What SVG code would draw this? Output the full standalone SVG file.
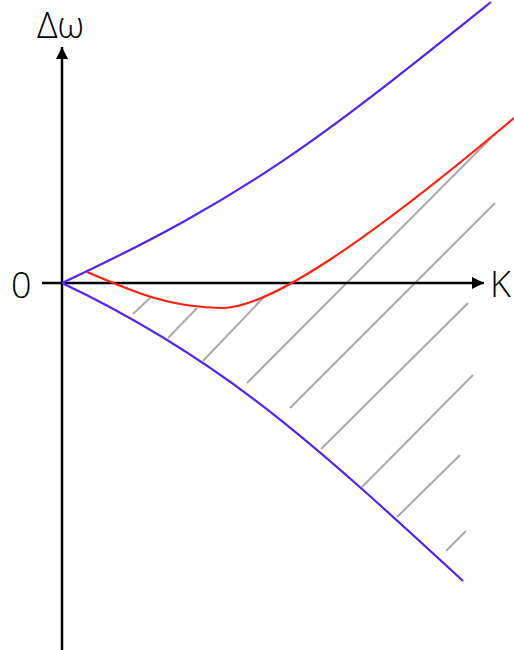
<svg xmlns="http://www.w3.org/2000/svg" width="514" height="650" viewBox="0 0 514 650">
<style>
.axis{stroke:#000;stroke-width:2.5;fill:none}
.bound{stroke:#5522f0;stroke-width:2.2;fill:none}
.red{stroke:#ff2010;stroke-width:2.2;fill:none}
.hatch{stroke:#aaaaaa;stroke-width:2;fill:none}
.lbl{font-family:"Open Sans","Liberation Sans",sans-serif;font-weight:300;font-size:36px;fill:#000}
</style>
<defs>
<marker id="arr" markerWidth="12" markerHeight="12" refX="12" refY="6" orient="auto" markerUnits="userSpaceOnUse">
<path d="M0,0 L12,6 L0,12 Z" fill="#000"/>
</marker>
</defs>
<g id="hatching">
<line class="hatch" x1="133" y1="314" x2="152" y2="296"/>
<line class="hatch" x1="168" y1="338" x2="197" y2="308"/>
<line class="hatch" x1="203" y1="361" x2="263" y2="298"/>
<line class="hatch" x1="247" y1="383" x2="492" y2="137"/>
<line class="hatch" x1="290" y1="408" x2="495" y2="203"/>
<line class="hatch" x1="321" y1="449" x2="468" y2="303"/>
<line class="hatch" x1="362" y1="487" x2="473" y2="375"/>
<line class="hatch" x1="397" y1="517" x2="460" y2="455"/>
<line class="hatch" x1="446" y1="551" x2="466" y2="531"/>
</g>
<g id="axes">
<line id="k-axis" class="axis" x1="42" y1="283" x2="484" y2="283" marker-end="url(#arr)"/>
<line id="w-axis" class="axis" x1="62" y1="650" x2="62" y2="47" marker-end="url(#arr)"/>
</g>
<g id="curves">
<path id="upper" class="bound" d="M62,283 C252,194 321,138 491,2"/>
<path id="lower" class="bound" d="M62,283 C218,357 308,438 463,581"/>
<path id="red" class="red" d="M87,272 C137,293.5 172,308 222,308 C268,308 364,244 514,118"/>
</g>
<g id="labels">
<text class="lbl" x="37" y="38">Δω</text>
<text class="lbl" x="11" y="298">0</text>
<text class="lbl" x="490" y="297">K</text>
</g>
</svg>
